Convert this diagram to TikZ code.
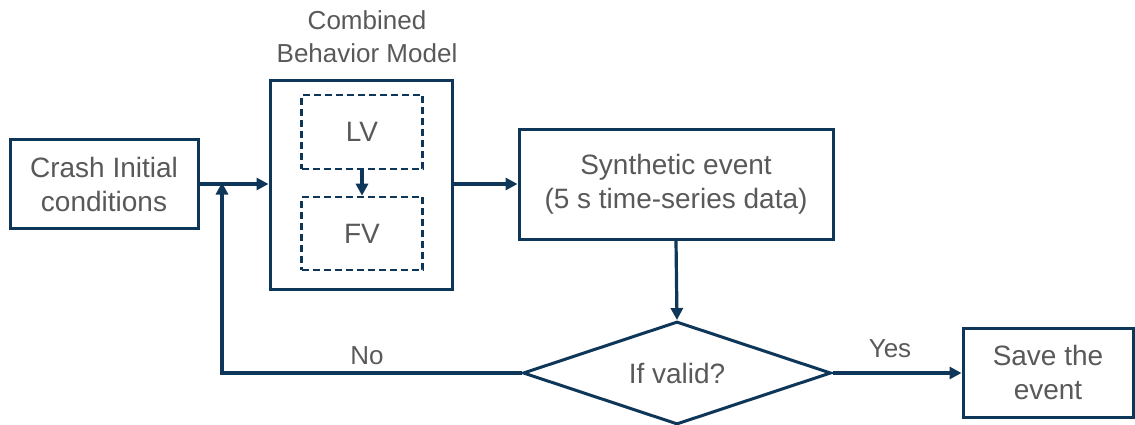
\documentclass[tikz,border=0pt]{standalone}
\usepackage{fontspec}
\setmainfont{Liberation Sans}
\usetikzlibrary{shapes.geometric,arrows.meta}
\definecolor{lineblue}{HTML}{0D3659}
\definecolor{txtgray}{HTML}{595959}
\tikzset{
  box/.style={draw=lineblue,line width=3pt,fill=white,inner sep=0pt,align=center,text=txtgray,font=\fontsize{28}{34}\selectfont},
  dbox/.style={box,line width=2.6pt,dash pattern=on 7pt off 4pt},
  conn/.style={draw=lineblue,line width=3.2pt},
  arr/.style={conn,-{Triangle[length=12pt,width=12pt]}},
  lbl/.style={text=txtgray,font=\fontsize{26}{28}\selectfont,inner sep=0pt},
}
\begin{document}
\begin{tikzpicture}[x=1pt,y=-1pt]
\useasboundingbox (0,0) rectangle (1135,425);
\node[box,minimum width=188pt,minimum height=88pt] (crash) at (104,184) {Crash Initial\\conditions};
\node[box,minimum width=182pt,minimum height=208pt] (outer) at (361,185) {};
\node[lbl,align=center,font=\fontsize{26}{33}\selectfont] (title) at (367,37) {Combined\\Behavior Model};
\node[dbox,minimum width=121pt,minimum height=74pt] (lv) at (362,132) {LV};
\node[dbox,minimum width=121pt,minimum height=73pt] (fv) at (362,233.5) {FV};
\node[box,minimum width=314pt,minimum height=109pt] (syn) at (676,184.5) {Synthetic event\\(5 s time-series data)};
\node[box,shape=diamond,shape aspect=3,minimum width=308pt,minimum height=103pt] (dia) at (677,373) {If valid?};
\node[box,minimum width=170pt,minimum height=89pt] (save) at (1048,372.5) {Save the\\event};
\coordinate (fb) at (222,184);
\draw[arr] (crash.east) -- (crash.east -| outer.west);
\draw[arr] (dia.west) -| ([yshift=1.5pt]fb);
\draw[arr] (lv.south) -- (fv.north);
\draw[arr] (outer.east |- crash.east) -- (syn.west |- crash.east);
\draw[arr] (syn.south) -- (dia.north);
\draw[arr] (dia.east) -- (save.west |- dia.east);
\node[lbl] (no) at (367,356) {No};
\node[lbl] (yes) at (890,349) {Yes};
\end{tikzpicture}
\end{document}
